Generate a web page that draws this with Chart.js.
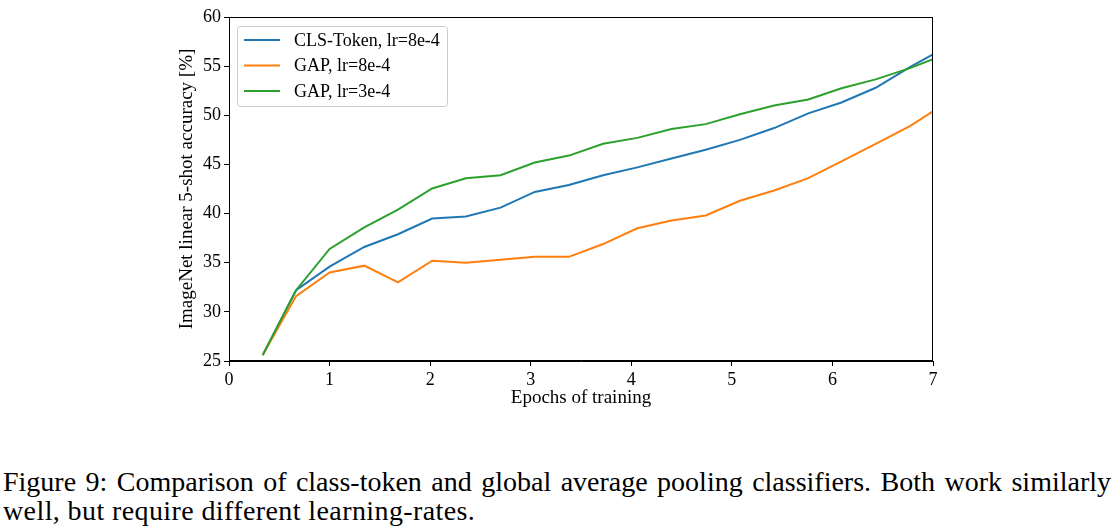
<!DOCTYPE html>
<html>
<head>
<meta charset="utf-8">
<script src="https://cdn.jsdelivr.net/npm/chart.js@4.4.1/dist/chart.umd.min.js"></script>
<style>
    html, body { margin: 0; padding: 0; background: #fff; }
    #wrap { position: absolute; left: 0; top: 0; width: 1118px; height: 420px; }
    #caption {
        position: absolute; left: 3px; top: 467px; width: 1108px;
        font-family: "Liberation Serif", "DejaVu Serif", serif;
        font-size: 28px; line-height: 29px; color: #000;
    }
    #caption .l1 { text-align: justify; text-align-last: justify; white-space: nowrap; }
    #caption .l2 { letter-spacing: 0.4px; }
</style>
</head>
<body>
<div id="wrap"><canvas id="chart"></canvas></div>
<div id="caption">
    <div class="l1">Figure 9: Comparison of class-token and global average pooling classifiers. Both work similarly</div>
    <div class="l2">well, but require different learning-rates.</div>
</div>
<script>
const epochs = [0.335, 0.667, 1.0, 1.345, 1.68, 2.02, 2.355, 2.70, 3.04, 3.38, 3.72, 4.06, 4.40, 4.74, 5.08, 5.42, 5.76, 6.09, 6.43, 6.77, 7.0];
const clsToken8e4 = [25.6, 32.2, 34.6, 36.6, 37.9, 39.5, 39.7, 40.6, 42.2, 42.9, 43.9, 44.7, 45.6, 46.5, 47.5, 48.7, 50.2, 51.3, 52.8, 54.9, 56.2];
const gap8e4 = [25.6, 31.6, 34.0, 34.7, 33.0, 35.2, 35.0, 35.3, 35.6, 35.6, 36.9, 38.5, 39.3, 39.8, 41.3, 42.35, 43.6, 45.3, 47.1, 48.9, 50.4];
const gap3e4 = [25.6, 32.2, 36.4, 38.6, 40.4, 42.55, 43.6, 43.9, 45.2, 45.9, 47.1, 47.7, 48.6, 49.1, 50.1, 51.0, 51.6, 52.75, 53.65, 54.8, 55.7];
const seriesNames = ['CLS-Token, lr=8e-4', 'GAP, lr=8e-4', 'GAP, lr=3e-4'];
const xTicks = [0, 1, 2, 3, 4, 5, 6, 7];
const yTicks = [25, 30, 35, 40, 45, 50, 55, 60];

const serif = '"Liberation Serif", "DejaVu Serif", serif';
const colors = ['#1f77b4', '#ff7f0e', '#2ca02c'];

function toPoints(values) {
    return values.map((v, i) => ({ x: epochs[i], y: v }));
}

// box around the plot + legend inside, matplotlib style
const framePlugin = {
    id: 'frame',
    afterDatasetsDraw(chart) {
        const { ctx, chartArea: a } = chart;
        ctx.save();
        ctx.strokeStyle = '#000';
        ctx.lineWidth = 1;
        ctx.strokeRect(a.left + 0.5, a.top + 0.5, a.right - a.left - 1, a.bottom - a.top - 1);

        // legend
        const bx = a.left + 8, by = a.top + 9, bw = 210, bh = 80;
        ctx.fillStyle = 'rgba(255,255,255,0.8)';
        ctx.strokeStyle = '#cccccc';
        ctx.beginPath();
        ctx.roundRect(bx + 0.5, by + 0.5, bw, bh, 3);
        ctx.fill();
        ctx.stroke();
        ctx.font = '18px ' + serif;
        ctx.textBaseline = 'middle';
        seriesNames.forEach((name, i) => {
            const y = by + 14 + i * 25.5;
            ctx.strokeStyle = colors[i];
            ctx.lineWidth = 2;
            ctx.beginPath();
            ctx.moveTo(bx + 7, y);
            ctx.lineTo(bx + 43, y);
            ctx.stroke();
            ctx.fillStyle = '#000';
            ctx.fillText(name, bx + 57, y + 1);
        });
        ctx.restore();
    }
};

new Chart(document.getElementById('chart').getContext('2d'), {
    type: 'line',
    data: {
        datasets: [
            { label: seriesNames[0], data: toPoints(clsToken8e4), borderColor: colors[0], order: 2 },
            { label: seriesNames[1], data: toPoints(gap8e4), borderColor: colors[1], order: 1 },
            { label: seriesNames[2], data: toPoints(gap3e4), borderColor: colors[2], order: 0 }
        ]
    },
    options: {
        responsive: true,
        maintainAspectRatio: false,
        animation: false,
        layout: { padding: { left: 172, right: 185, top: 17, bottom: 7 } },
        elements: {
            point: { radius: 0 },
            line: { borderWidth: 2, tension: 0, fill: false }
        },
        plugins: {
            legend: { display: false },
            tooltip: { enabled: false }
        },
        scales: {
            x: {
                type: 'linear',
                min: 0,
                max: 7,
                afterFit: (scale) => { scale.height = 52; },
                afterBuildTicks: (scale) => { scale.ticks = xTicks.map(v => ({ value: v })); },
                grid: { drawOnChartArea: false, drawTicks: true, tickLength: 5, color: '#000' },
                border: { color: '#000' },
                ticks: { color: '#000', padding: 3, maxRotation: 0, font: { family: serif, size: 18 } },
                title: { display: true, text: 'Epochs of training', color: '#000', font: { family: serif, size: 19 } }
            },
            y: {
                min: 25,
                max: 60,
                afterFit: (scale) => { scale.width = 57; },
                afterBuildTicks: (scale) => { scale.ticks = yTicks.map(v => ({ value: v })); },
                grid: { drawOnChartArea: false, drawTicks: true, tickLength: 5, color: '#000' },
                border: { color: '#000' },
                ticks: { color: '#000', padding: 3, font: { family: serif, size: 18 } },
                title: { display: true, text: 'ImageNet linear 5-shot accuracy [%]', color: '#000', font: { family: serif, size: 19 } }
            }
        }
    },
    plugins: [framePlugin]
});
</script>
</body>
</html>
